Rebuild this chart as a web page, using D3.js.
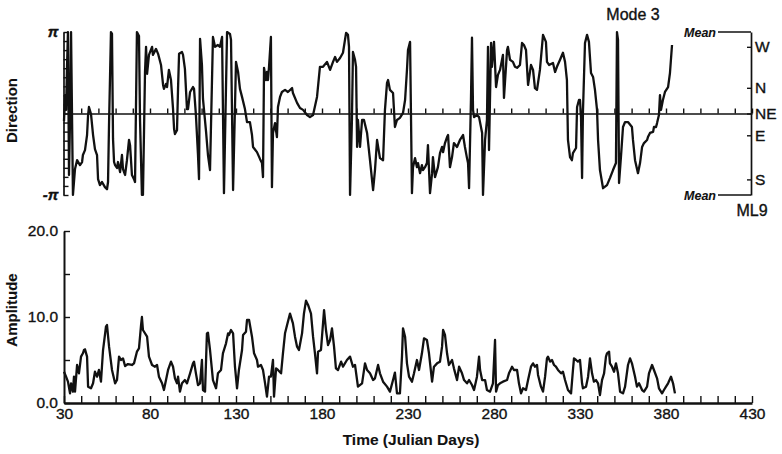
<!DOCTYPE html>
<html>
<head>
<meta charset="utf-8">
<script src="https://cdn.jsdelivr.net/npm/d3@7"></script>
<style>
  html, body { margin: 0; padding: 0; background: #fff; }
  svg { display: block; }
  text { font-family: "Liberation Sans", Arial, Helvetica, sans-serif; fill: #111; stroke: #111; stroke-width: 0.35px; }
</style>
</head>
<body>
<svg id="chart" width="782" height="454"></svg>
<script>
// Mode 3 current direction (radians, relative to NE) at station ML9
const dirDays = [30.0,30.6,31.2,31.7,32.3,32.9,33.5,34.1,35.2,36.4,37.6,39.3,40.5,41.0,42.2,43.4,44.0,44.5,45.7,46.9,48.0,49.2,49.8,50.9,52.1,53.8,55.0,55.6,56.2,56.7,57.3,57.9,58.5,59.1,59.7,60.8,61.4,62.6,63.7,64.3,65.5,66.6,67.8,68.4,69.5,70.7,71.3,72.4,73.6,74.2,75.3,75.9,77.1,77.7,78.3,79.4,81.2,81.7,83.5,84.7,86.4,87.6,88.1,89.3,89.9,91.0,92.2,93.4,94.0,94.5,95.7,96.3,96.9,98.6,99.2,100.3,101.5,102.1,103.3,105.0,105.6,106.7,107.9,108.5,109.1,110.2,110.8,112.6,113.7,114.9,116.6,117.8,119.5,120.7,121.9,123.0,124.8,126.5,127.1,128.3,130.0,131.2,132.3,133.5,135.2,136.4,138.1,139.3,139.9,142.2,144.0,145.1,145.7,146.3,147.4,148.0,148.6,149.2,150.3,150.9,151.5,152.7,153.8,154.4,155.6,156.7,158.5,160.2,162.6,163.1,165.5,167.2,169.0,171.3,173.0,174.8,177.1,178.8,180.6,182.9,184.7,186.4,187.6,188.7,190.5,192.2,194.0,195.1,195.7,196.3,197.4,198.0,199.2,199.8,200.4,200.9,202.1,203.3,204.4,206.2,207.9,209.7,210.8,212.0,213.7,215.5,216.6,217.8,218.4,219.5,221.3,222.4,223.6,225.3,227.1,228.3,229.4,230.0,231.2,232.3,232.9,234.1,235.2,235.8,237.0,238.1,238.7,239.9,241.0,241.6,242.8,244.0,244.5,245.7,247.4,248.6,249.8,250.4,251.5,252.7,253.3,254.4,255.6,256.7,258.5,260.2,262.0,263.1,264.3,264.9,265.5,266.6,267.2,267.8,268.4,270.1,271.3,273.1,273.6,274.8,275.9,276.5,277.1,278.3,278.8,280.0,281.2,282.3,283.5,285.2,285.8,287.6,288.1,289.3,291.0,292.2,293.4,295.1,296.3,297.4,298.6,299.8,301.5,302.7,303.8,305.0,306.7,308.5,310.2,310.8,312.0,314.3,315.5,316.6,318.4,320.1,321.3,322.4,323.0,324.2,325.3,325.9,327.7,328.3,329.4,330.0,330.6,331.2,331.7,332.9,334.1,335.2,336.4,337.6,338.7,339.9,340.5,341.6,343.4,345.7,347.4,349.2,350.9,351.5,352.1,352.7,353.8,355.0,356.2,357.9,360.2,360.8,362.0,363.7,364.9,366.1,367.2,369.0,369.5,370.7,372.5,373.0,374.2,374.8,375.9,376.5,377.1,378.2,379.4,381.2,382.3,383.5];
const dirValues = [-0.29,0.71,0.14,1.68,3.14,-2.37,-0.25,3.14,-3.14,-2.14,-1.80,-1.99,-1.87,-1.60,-1.41,-0.83,-0.06,0.25,-0.02,-0.83,-1.37,-1.60,-2.53,-2.76,-2.64,-2.84,-2.92,-2.64,-0.33,1.22,3.14,3.07,-0.98,-1.87,-1.99,-2.10,-1.87,-2.26,-1.60,-2.14,-2.37,-1.80,-1.02,-1.22,-2.37,-2.53,-2.64,3.14,2.99,-0.25,-3.14,-3.14,1.60,2.57,1.53,2.26,2.57,2.26,2.49,2.30,1.87,1.10,0.95,1.14,1.02,1.68,1.29,0.17,-0.60,-0.79,-0.64,0.95,2.30,2.37,2.26,1.72,0.17,0.17,0.83,1.02,0.95,-0.06,-1.60,-2.53,2.88,1.87,0.56,-0.71,-1.60,-2.18,2.95,2.57,2.64,2.57,2.95,-3.07,3.14,3.07,2.84,-2.95,1.99,1.60,0.95,0.64,0.17,-0.33,-0.33,-0.83,-1.29,-1.49,-1.76,-1.91,-2.45,1.76,1.29,1.60,1.29,1.80,2.95,-2.84,-0.75,-0.37,-0.91,0.25,0.64,0.83,0.91,0.83,0.98,0.79,0.41,0.21,0.14,-0.06,-0.14,-0.06,0.64,1.80,1.80,1.99,1.68,1.99,2.18,1.99,2.14,2.34,3.11,3.03,2.57,-3.14,-0.25,2.37,2.07,1.80,-1.29,-0.25,-1.29,-0.25,-0.25,-0.75,-1.80,-2.95,-2.18,-1.02,-1.72,-1.80,0.14,1.18,1.29,0.91,0.79,-0.52,-0.25,-0.17,0.02,0.52,1.68,2.45,2.76,-3.07,-2.07,-1.72,-2.07,-1.91,-2.30,-1.99,-2.18,-2.07,-1.91,-1.22,-3.07,-2.30,-1.68,-2.45,-2.07,-1.53,-1.29,-1.49,-1.14,-0.91,-0.83,-2.07,-1.68,-1.14,-1.29,-1.02,-0.83,-1.29,-1.72,-1.91,-2.88,0.52,2.92,0.14,-0.14,-0.06,-0.14,-0.75,-3.14,-1.02,-0.25,2.57,-1.41,2.72,1.80,2.76,1.02,1.49,1.68,2.26,0.60,2.45,2.57,2.07,1.99,1.80,1.76,1.87,2.72,2.64,2.45,1.10,1.87,1.68,0.98,0.91,1.68,3.03,2.76,1.99,1.87,1.95,1.60,1.80,2.07,2.34,1.99,1.29,-1.02,-1.68,-1.80,-1.53,-1.33,0.25,0.52,0.52,-0.14,-2.49,0.02,2.72,3.03,2.76,1.56,1.41,0.91,0.14,-1.02,-2.18,-2.88,-2.76,-2.49,-2.18,-1.91,3.14,2.84,-2.68,-1.68,-0.52,-0.33,-0.33,-0.52,-1.02,-1.80,-2.30,-1.91,-1.29,-1.14,-1.02,-0.91,-0.75,-0.71,-0.52,-0.52,-0.37,-0.06,0.71,0.14,0.52,0.83,1.02,1.56,2.64];

// Mode 3 amplitude
const ampDays = [30.0,31.2,32.3,33.5,34.1,35.2,35.8,36.4,37.6,38.7,39.9,41.0,41.6,42.2,43.4,44.0,45.7,46.9,48.0,49.2,50.3,51.5,52.7,54.4,55.0,56.2,57.9,59.7,60.8,62.0,63.1,64.3,65.5,67.2,69.5,70.7,72.4,73.6,74.8,75.3,75.9,78.3,79.4,81.2,82.9,84.1,85.2,87.0,88.1,89.3,90.5,92.2,93.4,94.5,95.7,96.3,97.4,98.6,100.3,101.5,103.3,105.0,105.6,106.7,107.9,109.1,110.2,110.8,112.0,113.1,113.7,114.9,116.6,118.4,119.5,121.3,122.4,124.2,125.4,125.9,127.1,128.3,129.4,130.6,131.7,133.5,134.1,135.8,136.4,137.6,139.3,140.5,142.2,142.8,144.5,145.7,146.9,148.0,149.2,150.3,151.5,152.1,153.3,154.4,156.2,157.3,158.5,159.7,161.4,163.1,164.3,165.5,166.6,168.4,169.5,170.7,171.9,173.6,174.8,175.9,177.1,177.7,179.4,180.6,181.2,182.3,183.5,184.7,185.8,187.0,188.1,189.3,191.1,192.2,194.5,196.3,198.0,199.2,200.9,203.3,205.0,206.2,207.9,209.7,210.8,212.6,213.7,215.5,217.8,219.5,221.3,222.4,223.6,225.3,226.5,227.1,228.3,229.4,230.6,232.3,233.5,235.2,236.4,238.1,239.3,241.0,242.2,244.0,245.1,246.9,248.6,249.8,250.4,251.5,252.7,253.8,255.6,256.7,258.5,259.7,261.4,262.6,264.3,265.5,267.2,268.4,270.1,271.3,271.9,273.1,274.8,275.9,277.7,279.4,280.6,281.2,282.3,283.5,285.2,287.6,288.7,290.5,291.6,293.4,294.5,295.7,296.9,298.6,299.8,301.5,302.7,303.8,305.0,305.6,307.3,308.5,309.7,310.8,311.4,312.6,313.7,314.9,316.0,317.2,319.0,320.1,321.3,323.0,324.8,325.9,326.5,327.7,328.8,330.0,331.2,331.7,333.5,334.7,335.8,337.0,338.1,339.3,340.5,341.6,342.8,344.0,345.1,345.7,346.9,347.4,348.6,349.8,350.9,352.1,353.3,355.0,356.2,357.9,359.1,360.2,362.0,363.1,364.3,366.1,367.2,369.0,370.1,371.9,373.0,374.8,375.9,377.7,378.8,380.0,381.2,382.9,384.1,385.2];
const ampValues = [3.64,3.06,2.48,1.12,2.29,1.32,3.06,1.32,4.42,3.45,5.39,5.78,6.16,6.24,5.39,1.90,1.71,2.29,3.64,3.06,3.84,2.48,6.16,8.88,9.07,6.55,3.84,2.29,2.67,5.39,5.00,5.19,4.30,4.53,4.42,4.61,5.97,6.36,9.07,10.0,8.49,7.71,5.39,4.42,4.22,4.42,3.06,2.29,1.51,2.67,3.84,4.81,4.22,2.87,2.29,3.06,1.32,2.29,2.67,2.29,3.45,4.61,4.81,3.45,2.09,2.29,5.00,1.51,1.32,8.10,8.18,6.16,2.67,1.71,3.45,3.84,5.78,6.94,8.10,7.91,8.49,8.10,4.22,1.71,3.84,6.16,7.91,8.29,9.65,9.65,7.71,5.78,5.00,4.22,4.42,3.84,2.29,0.74,3.06,3.06,5.00,0.74,4.03,3.84,3.45,5.78,8.10,9.07,10.4,9.26,7.71,6.55,6.16,8.10,10.4,11.9,11.4,10.4,7.71,5.78,3.45,5.97,6.16,9.26,10.8,8.49,6.74,7.33,8.68,6.55,4.03,3.84,4.81,4.22,5.00,5.39,4.22,4.42,1.90,2.29,4.61,3.84,3.45,2.67,2.87,4.42,3.45,2.48,1.90,1.32,2.67,3.53,1.12,1.12,5.39,8.68,7.71,4.61,3.06,2.48,3.45,5.00,3.84,5.78,7.52,7.33,5.78,2.48,4.22,4.61,4.81,6.55,8.49,7.91,5.78,4.42,5.00,4.03,2.67,4.22,3.45,2.67,2.29,2.67,2.09,1.51,3.06,5.39,3.84,2.67,2.67,1.51,1.32,2.29,7.33,1.32,2.09,2.29,2.48,2.67,3.45,4.22,3.84,3.84,2.29,1.12,1.71,1.51,2.67,4.22,4.61,4.22,4.42,3.26,1.90,1.32,3.06,5.19,5.39,4.81,5.00,4.42,4.22,3.84,3.45,3.64,2.67,1.51,1.12,3.84,5.19,5.00,4.81,5.00,2.29,1.71,1.90,3.06,5.19,3.45,2.48,2.67,2.29,0.93,2.67,3.45,5.39,5.78,5.97,4.61,4.22,3.64,4.61,3.45,1.32,1.12,1.90,4.42,5.19,4.61,3.06,1.90,2.29,1.51,1.32,1.90,3.45,4.42,3.84,2.87,1.71,1.12,1.51,1.90,2.29,3.06,2.29,1.12];

// Axis ticks and labels
const timeTicks = [30, 80, 130, 180, 230, 280, 330, 380, 430];
const ampTicks = [0, 5, 10, 15, 20];
const compassLabels = ["W", "N", "NE", "E", "S"];
const compassAngles = [2.57, 0.99, 0, -0.84, -2.54];

const svg = d3.select("#chart");
svg.append("rect").attr("width", 782).attr("height", 454).attr("fill", "#fff");

const x = d3.scaleLinear().domain([30, 430]).range([64, 752]);
const yDir = d3.scaleLinear().domain([-Math.PI, Math.PI]).range([195, 32]);
const yAmp = d3.scaleLinear().domain([0, 20]).range([403, 231]);

const minorDays = d3.range(30, 431, 10);

function styleAxis(g, w) {
  g.selectAll("path.domain").attr("stroke", "#111").attr("stroke-width", w);
  g.selectAll(".tick line").attr("stroke", "#111").attr("stroke-width", 1.4);
  g.selectAll(".tick text").attr("fill", "#111");
}

// ---------- Direction panel ----------
// zero (NE) reference line with day ticks
const zeroAxis = svg.append("g")
  .attr("transform", `translate(0,${yDir(0)})`)
  .call(d3.axisBottom(x).tickValues(minorDays).tickSize(-5).tickSizeOuter(0).tickFormat(""));
styleAxis(zeroAxis, 1.7);

// left axis -pi..pi
const dirLeft = svg.append("g")
  .attr("transform", `translate(${x(30) - 0.5},0)`)
  .call(d3.axisLeft(yDir)
    .tickValues(d3.range(-9, 10).map(k => k * Math.PI / 9))
    .tickSize(-5).tickSizeOuter(0).tickPadding(5)
    .tickFormat(d => Math.abs(d - Math.PI) < 1e-6 ? "\u03c0" : (Math.abs(d + Math.PI) < 1e-6 ? "-\u03c0" : "")));
styleAxis(dirLeft, 1.7);
dirLeft.selectAll(".tick text")
  .attr("font-family", "'Liberation Serif', 'Times New Roman', serif")
  .attr("font-style", "italic").attr("font-weight", "bold").attr("font-size", 15);

// right compass axis
const dirRight = svg.append("g")
  .attr("transform", `translate(${x(430) - 1},0)`)
  .call(d3.axisRight(yDir).tickValues(compassAngles).tickSize(-4).tickSizeOuter(0).tickPadding(4)
    .tickFormat((d, i) => compassLabels[i]));
styleAxis(dirRight, 1.7);
dirRight.selectAll(".tick text").attr("font-size", 15.5)
  .attr("font-family", "'Liberation Sans', Arial, sans-serif");

// "Mean" markers at +/- pi
[Math.PI, -Math.PI].forEach(v => {
  svg.append("line").attr("x1", 718).attr("x2", x(430) - 1)
    .attr("y1", yDir(v)).attr("y2", yDir(v))
    .attr("stroke", "#111").attr("stroke-width", 1.4);
  svg.append("text").attr("x", 716).attr("y", yDir(v) + 4.5)
    .attr("text-anchor", "end").attr("font-style", "italic").attr("font-weight", "bold")
    .attr("font-size", 12.5).style("stroke-width", "0.1px").text("Mean");
});

// direction series
svg.append("path")
  .datum(dirDays.map((d, i) => [d, dirValues[i]]))
  .attr("fill", "none").attr("stroke", "#111").attr("stroke-width", 2.3)
  .attr("stroke-linejoin", "round")
  .attr("d", d3.line().x(d => x(d[0])).y(d => yDir(d[1])));

svg.append("text").attr("x", 633).attr("y", 20).attr("text-anchor", "middle")
  .attr("font-size", 16).text("Mode 3");
svg.append("text").attr("x", 752).attr("y", 216).attr("text-anchor", "middle")
  .attr("font-size", 16).text("ML9");
svg.append("text").attr("transform", `translate(17,${yDir(0) - 3}) rotate(-90)`)
  .attr("text-anchor", "middle").attr("font-weight", "bold").attr("font-size", 15)
  .style("stroke-width", "0.1px").text("Direction");

// ---------- Amplitude panel ----------
const ampAxis = svg.append("g")
  .attr("transform", `translate(${x(30)},0)`)
  .call(d3.axisLeft(yAmp).tickValues(ampTicks).tickSize(-6).tickSizeOuter(0).tickPadding(6)
    .tickFormat(d => d % 10 === 0 ? d.toFixed(1) : ""));
styleAxis(ampAxis, 2);
ampAxis.selectAll(".tick text").attr("font-size", 15.5)
  .attr("font-family", "'Liberation Sans', Arial, sans-serif");

const timeAxis = svg.append("g")
  .attr("transform", `translate(0,${yAmp(0)})`)
  .call(d3.axisBottom(x).tickValues(minorDays).tickSize(-7).tickSizeOuter(0).tickPadding(5)
    .tickFormat(d => timeTicks.includes(d) ? d : ""));
styleAxis(timeAxis, 2.3);
timeAxis.selectAll(".tick text").attr("font-size", 15.5)
  .attr("font-family", "'Liberation Sans', Arial, sans-serif");

svg.append("path")
  .datum(ampDays.map((d, i) => [d, ampValues[i]]))
  .attr("fill", "none").attr("stroke", "#111").attr("stroke-width", 2.3)
  .attr("stroke-linejoin", "round")
  .attr("d", d3.line().x(d => x(d[0])).y(d => yAmp(d[1])));

svg.append("text").attr("transform", `translate(17,${yAmp(10) - 7}) rotate(-90)`)
  .attr("text-anchor", "middle").attr("font-weight", "bold").attr("font-size", 15)
  .style("stroke-width", "0.1px").text("Amplitude");
svg.append("text").attr("x", 411).attr("y", 445).attr("text-anchor", "middle")
  .attr("font-weight", "bold").attr("font-size", 15.5)
  .style("stroke-width", "0.1px").text("Time (Julian Days)");
</script>
</body>
</html>
